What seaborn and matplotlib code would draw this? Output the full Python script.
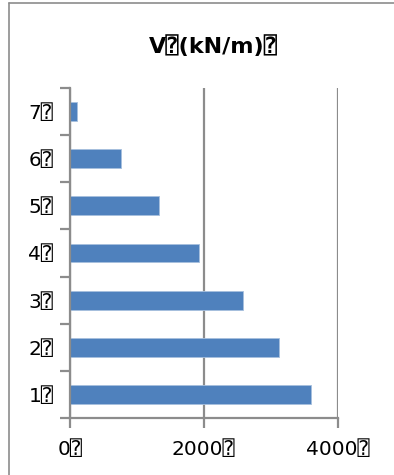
import matplotlib
matplotlib.use("Agg")
import matplotlib.pyplot as plt
import seaborn as sns
import pandas as pd

# data
levels = ["1", "2", "3", "4", "5", "6", "7"]
v_values = [3605, 3120, 2585, 1935, 1330, 765, 105]
box = "\u2370"  # missing-glyph box as shown in the source
tick_vals = [0, 2000, 4000]

df = pd.DataFrame({"level": [l + box for l in levels], "V": v_values})
order = [l + box for l in levels[::-1]]

sns.set_style("white")
plt.rcParams["font.family"] = ["DejaVu Sans", "DejaVu Sans Mono"]
plt.rcParams["text.color"] = "black"
plt.rcParams["xtick.color"] = "black"
plt.rcParams["ytick.color"] = "black"

fig = plt.figure(figsize=(3.94, 4.75), dpi=100)
ax = fig.add_axes([70 / 394, 1 - 418 / 475, 267.5 / 394, 330 / 475])

sns.barplot(data=df, x="V", y="level", order=order, orient="h",
            color="#4F81BD", saturation=1, width=0.4,
            edgecolor="#A7C0DE", linewidth=0.6, ax=ax)

ax.set_xlim(0, 4000)
ax.set_xticks(tick_vals)
ax.set_xticklabels([f"{t}{box}" for t in tick_vals], fontsize=14.5)
ax.set_yticks(range(len(order)))
ax.set_yticklabels(order, fontsize=14.5)
ax.set_xlabel("")
ax.set_ylabel("")

# gridlines and spines
ax.grid(axis="x", color="#8C8C8C", linewidth=1.6)
ax.set_axisbelow(True)
for s in ["top", "right"]:
    ax.spines[s].set_visible(False)
for s in ["left", "bottom"]:
    ax.spines[s].set_color("#8C8C8C")
    ax.spines[s].set_linewidth(1.6)

# y tick marks sit between categories
ax.set_yticks([i + 0.5 for i in range(-1, len(order))], minor=True)
ax.tick_params(axis="y", which="both", left=True)
ax.tick_params(axis="x", which="both", bottom=True)
ax.tick_params(axis="y", which="major", length=0, pad=12)
ax.tick_params(axis="y", which="minor", length=7, width=1.6, color="#8C8C8C", direction="out")
ax.tick_params(axis="x", which="major", length=7, width=1.6, color="#8C8C8C",
               direction="out", pad=9)
ax.set_ylim(len(order) - 0.5, -0.5)

fig.text(213 / 394, 1 - 46 / 475, f"V{box}(kN/m){box}", ha="center", va="center",
         fontsize=16, fontweight="bold")

# outer frame (left and top edges visible)
fig.add_artist(plt.Line2D([8.5 / 394, 8.5 / 394], [0, 1 - 2.5 / 475],
                          transform=fig.transFigure, color="#8C8C8C", linewidth=1.2))
fig.add_artist(plt.Line2D([8.5 / 394, 1], [1 - 2.5 / 475, 1 - 2.5 / 475],
                          transform=fig.transFigure, color="#8C8C8C", linewidth=1.2))

plt.savefig("out.png", dpi=100)
